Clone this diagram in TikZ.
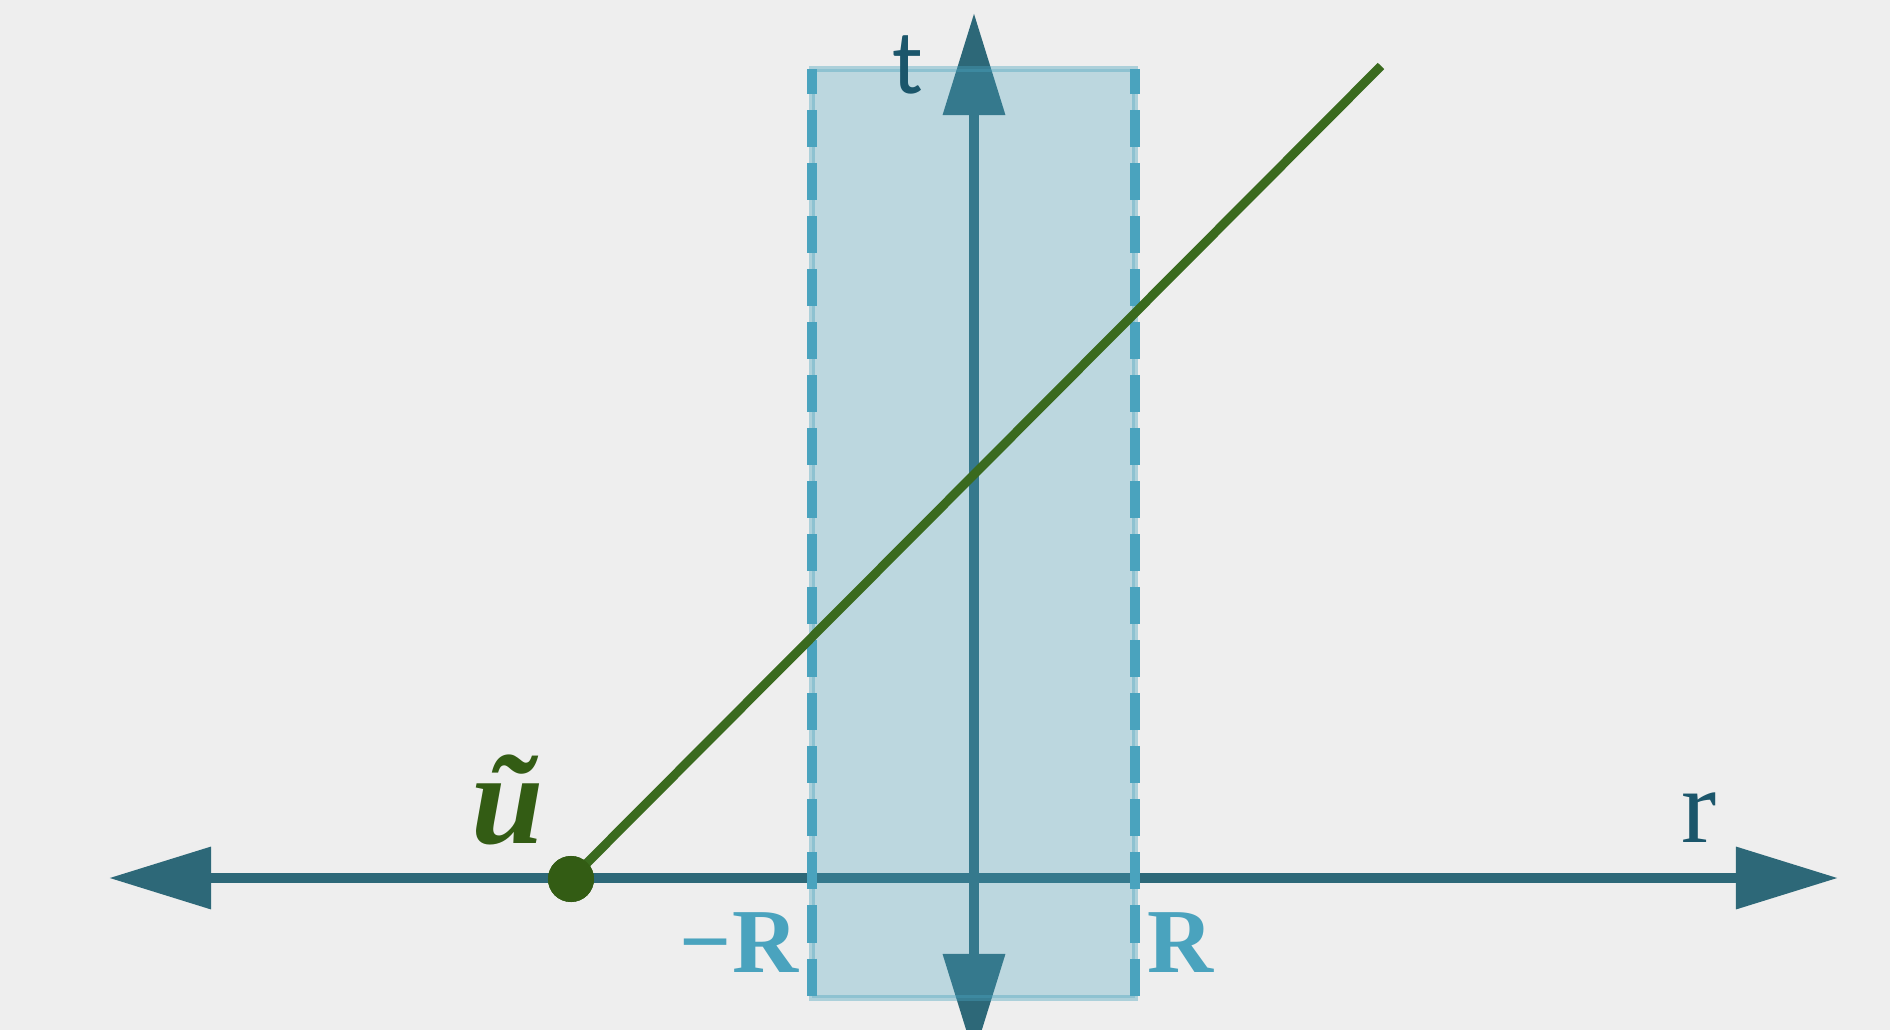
\documentclass[tikz,border=0pt]{standalone}
\usepackage{fontspec}
\setmainfont{Liberation Serif}
\newfontfamily\tfont{Carlito}
\usetikzlibrary{arrows.meta}

\definecolor{bgcol}{HTML}{EEEEEE}
\definecolor{axiscol}{HTML}{2D6878}
\definecolor{labelcol}{HTML}{1B566B}
\definecolor{boxcol}{HTML}{4AA3BE}
\definecolor{linecol}{HTML}{3A6A1E}
\definecolor{dotcol}{HTML}{335C14}

\tikzset{
  axis/.style={draw=axiscol, line width=0.1cm,
    {Triangle[length=1.02cm,width=0.6cm]}-{Triangle[length=1.02cm,width=0.6cm]}},
  boxedge/.style={draw=boxcol, line width=0.1cm,
    dash pattern=on 0.37cm off 0.16cm, dash phase=0.12cm},
  worldline/.style={draw=linecol, line width=0.09cm},
  axislabel/.style={text=labelcol, inner sep=0pt, anchor=base},
  boundlabel/.style={text=boxcol, inner sep=0pt, anchor=base, font=\fontsize{26}{26}\selectfont\bfseries},
}

\begin{document}
\begin{tikzpicture}[x=0.01cm, y=-0.01cm]
\fill[bgcol] (0,0) rectangle (1890,1030);
\useasboundingbox (0,0) rectangle (1890,1030);

\coordinate (rleft) at (109,878);
\coordinate (rright) at (1838,878);
\coordinate (ttop) at (974,13);
\coordinate (tbot) at (974,1056);

\draw[axis] (rleft) -- (rright);
\draw[axis] (tbot) -- (ttop);

% strip |r| < R
\coordinate (boxtl) at (812,69);
\coordinate (boxbl) at (812,998);
\coordinate (boxtr) at (1135,69);
\coordinate (boxbr) at (1135,998);
\path[fill=boxcol, fill opacity=0.3, draw=boxcol, draw opacity=0.4, line width=0.06cm]
  (boxtl) rectangle (boxbr);
\draw[boxedge] (boxtl) -- (boxbl);
\draw[boxedge] (boxtr) -- (boxbr);

\node[circle, fill=dotcol, minimum size=0.46cm, inner sep=0pt] (u) at (571,879) {};
\coordinate (uend) at (1381,66);
\draw[worldline] (u.center) -- (uend);
\node[circle, fill=dotcol, minimum size=0.46cm, inner sep=0pt] at (u) {};

\node[axislabel, font=\tfont\fontsize{26}{26}\selectfont] (tlab) at (908,93) {t};
\node[axislabel, font=\fontsize{30}{30}\selectfont] (rlab) at (1699,842) {r};
\node[inner sep=0pt, anchor=base, text=dotcol, font=\fontsize{37}{37}\selectfont\bfseries\itshape] (ulab) at (508,843) {ũ};
\node[boundlabel] (mR) at (739,972) {−R};
\node[boundlabel] (pR) at (1181,972) {R};
\end{tikzpicture}
\end{document}
